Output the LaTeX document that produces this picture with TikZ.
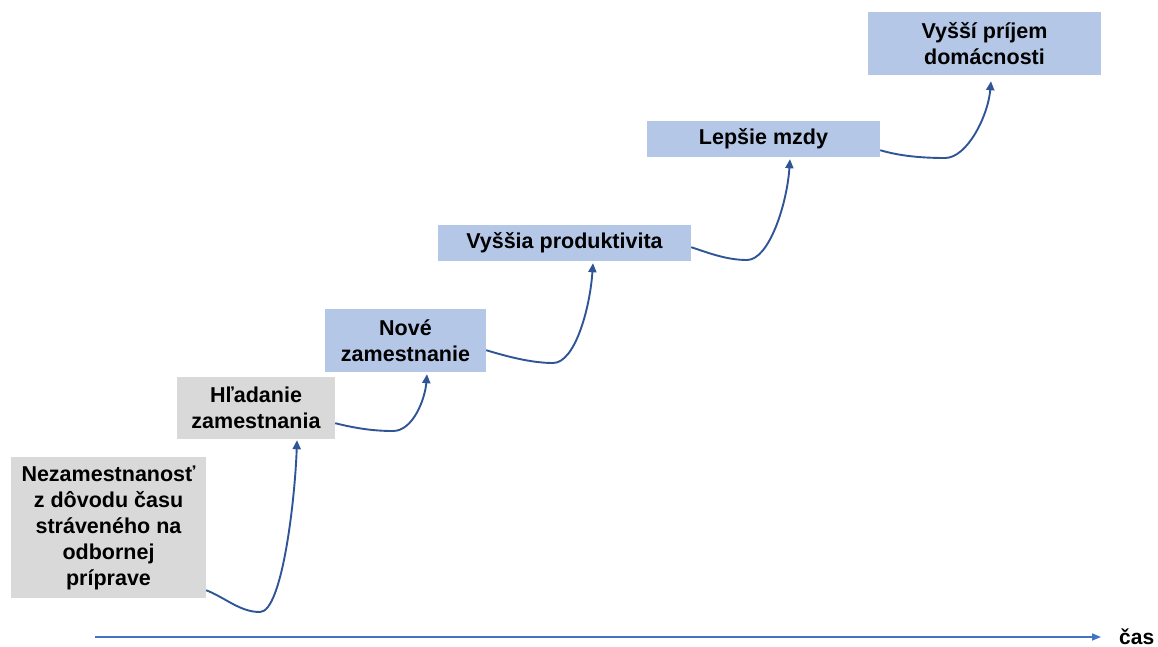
\documentclass[tikz,border=0pt]{standalone}
\usepackage{fontspec}
\setmainfont{Liberation Sans}
\usetikzlibrary{arrows.meta}
\definecolor{boxgray}{HTML}{D9D9D9}
\definecolor{boxblue}{HTML}{B4C7E7}
\definecolor{curveblue}{HTML}{2F5597}
\definecolor{axisblue}{HTML}{4472C4}
\tikzset{
  stepbox/.style={inner sep=0pt, align=center, font=\fontsize{21.5}{26}\selectfont\bfseries},
  graybox/.style={stepbox, fill=boxgray},
  bluebox/.style={stepbox, fill=boxblue},
  link/.style={draw=curveblue, line width=1.9pt, -{Triangle[length=9pt,width=8pt]}},
  axis/.style={draw=axisblue, line width=1.6pt, -{Triangle[length=9pt,width=7pt]}}
}
\begin{document}
\begin{tikzpicture}[x=1pt,y=-1pt]
\useasboundingbox (0,0) rectangle (1158,647);
\node[graybox, minimum width=195pt, minimum height=141pt] (n1) at (108.5,527.5)
  {\raisebox{-3pt}{\parbox{195pt}{\centering Nezamestnanosť\\z dôvodu času\\stráveného na\\odbornej\\príprave}}};
\node[graybox, minimum width=158pt, minimum height=62pt] (n2) at (256,408)
  {Hľadanie\\zamestnania};
\node[bluebox, minimum width=161pt, minimum height=63pt] (n3) at (405.5,340.5)
  {Nové\\zamestnanie};
\node[bluebox, minimum width=253pt, minimum height=36pt] (n4) at (564.5,243)
  {Vyššia produktivita};
\node[bluebox, minimum width=233pt, minimum height=36pt] (n5) at (763.5,139)
  {Lepšie mzdy};
\node[bluebox, minimum width=233pt, minimum height=63pt] (n6) at (984.5,43.5)
  {Vyšší príjem\\domácnosti};
% dips of the curves
\coordinate (m1) at (260,612);
\coordinate (m2) at (393,431);
\coordinate (m3) at (553,363);
\coordinate (m4) at (747,260);
\coordinate (m5) at (945,158);
\path[link] ([yshift=8pt]n1.south east) .. controls +(20,8) and +(-20,0) .. (m1)
  .. controls +(22,0) and +(-2,60) .. ([xshift=41pt,yshift=-1pt]n2.south);
\path[link] ([yshift=16pt]n2.south east) .. controls +(20,5) and +(-20,0) .. (m2)
  .. controls +(20,0) and +(-2,25) .. ([xshift=21.5pt,yshift=-2pt]n3.south);
\path[link] ([yshift=22pt]n3.south east) .. controls +(20,6) and +(-22,0) .. (m3)
  .. controls +(22,0) and +(-3,45) .. ([xshift=28.5pt,yshift=-2pt]n4.south);
\path[link] ([yshift=14pt]n4.south east) .. controls +(18,6) and +(-20,0) .. (m4)
  .. controls +(22,0) and +(-3,45) .. ([xshift=26.5pt,yshift=-2pt]n5.south);
\path[link] ([yshift=7pt]n5.south east) .. controls +(20,6) and +(-22,0) .. (m5)
  .. controls +(22,0) and +(-3,35) .. ([xshift=6.5pt,yshift=-6pt]n6.south);
% time axis
\coordinate (a0) at (95,637);
\node[anchor=base west, font=\fontsize{21}{25}\selectfont\bfseries, inner sep=0pt] (cas) at (1119,644.5) {čas};
\path[axis] (a0) -- (a0 -| 1101,0);
\end{tikzpicture}
\end{document}
